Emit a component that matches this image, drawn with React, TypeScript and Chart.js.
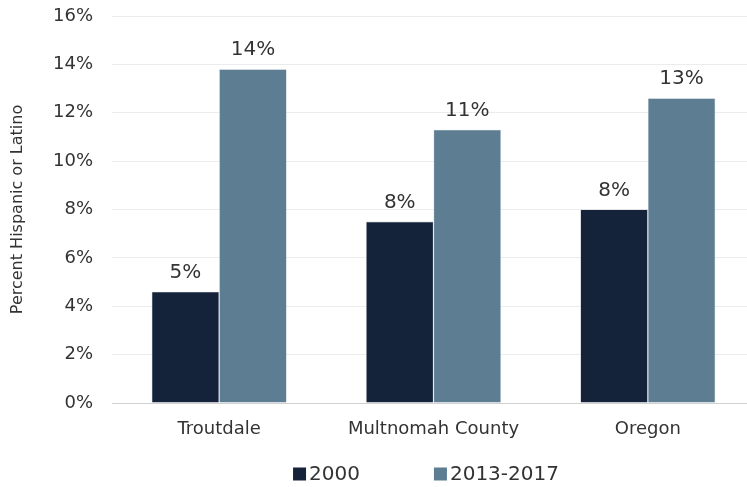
import React, { useEffect, useRef } from "react";
import { Chart, registerables } from "chart.js";

Chart.register(...registerables);

const categories = ["Troutdale", "Multnomah County", "Oregon"];
const seriesNames = ["2000", "2013-2017"];
const values2000 = [4.6, 7.5, 8.0];
const values2013 = [13.8, 11.3, 12.6];
const yTicks = [0, 2, 4, 6, 8, 10, 12, 14, 16];
const colors = ["#14233a", "#5d7e92"];

const FONT = "'DejaVu Sans', sans-serif";
const TEXT = "#333333";

const dataLabelPlugin = {
  id: "dataLabels",
  afterDatasetsDraw(chart: any) {
    const ctx = chart.ctx;
    ctx.save();
    ctx.font = `20px ${FONT}`;
    ctx.fillStyle = TEXT;
    ctx.textAlign = "center";
    ctx.textBaseline = "alphabetic";
    chart.data.datasets.forEach((ds: any, i: number) => {
      const meta = chart.getDatasetMeta(i);
      meta.data.forEach((el: any, j: number) => {
        ctx.fillText(Math.round(ds.data[j]) + "%", el.x, el.y - 14);
      });
    });
    ctx.restore();
  },
};

const legendPlugin = {
  id: "customLegend",
  afterDraw(chart: any) {
    const ctx = chart.ctx;
    ctx.save();
    ctx.font = `20px ${FONT}`;
    ctx.textBaseline = "middle";
    ctx.textAlign = "left";
    const box = 13;
    const gapText = 3;
    const gapItem = 74;
    const widths = chart.data.datasets.map((ds: any) => box + gapText + ctx.measureText(ds.label).width);
    const total = widths.reduce((a: number, b: number) => a + b, 0) + gapItem * (widths.length - 1);
    let x = 426 - total / 2;
    const y = 474;
    chart.data.datasets.forEach((ds: any, i: number) => {
      ctx.fillStyle = ds.backgroundColor;
      ctx.fillRect(x, y - box / 2, box, box);
      ctx.fillStyle = TEXT;
      ctx.fillText(ds.label, x + box + gapText, y + 1);
      x += widths[i] + gapItem;
    });
    ctx.restore();
  },
};

export default function App() {
  const ref = useRef<HTMLCanvasElement>(null);
  useEffect(() => {
    if (!ref.current) return;
    const chart = new Chart(ref.current, {
      type: "bar",
      data: {
        labels: categories,
        datasets: [
          { label: seriesNames[0], data: values2000, backgroundColor: colors[0], borderColor: "#c5ccd3", borderWidth: 0.6 },
          { label: seriesNames[1], data: values2013, backgroundColor: colors[1], borderColor: "#c5ccd3", borderWidth: 0.6 },
        ],
      },
      options: {
        responsive: false,
        animation: false,
        layout: { padding: { top: 16, right: 0, bottom: 45, left: 0 } },
        datasets: { bar: { categoryPercentage: 0.63, barPercentage: 1.0 } },
        plugins: {
          legend: { display: false },
          tooltip: { enabled: false },
        },
        scales: {
          x: {
            grid: { display: false, drawTicks: false },
            border: { display: false },
            ticks: { padding: 16, color: TEXT, font: { family: FONT, size: 18 } },
            afterFit: (s: any) => { s.height = 39; },
          },
          y: {
            min: 0,
            max: 16,
            afterBuildTicks: (s: any) => { s.ticks = yTicks.map((v) => ({ value: v })); },
            grid: {
              drawTicks: false,
              color: (c: any) => (c.tick && c.tick.value === 0 ? "#d0d0d0" : "#ececec"),
              lineWidth: 1,
            },
            border: { display: false },
            ticks: {
              padding: 19,
              color: TEXT,
              font: { family: FONT, size: 18 },
              callback: (v: any) => v + "%",
            },
            title: {
              display: true,
              text: "Percent Hispanic or Latino",
              color: TEXT,
              font: { family: FONT, size: 16 },
              padding: { top: 8, bottom: 0 },
            },
            afterFit: (s: any) => {
              s.width = 112;
              s.paddingTop = 0;
              s.paddingBottom = 0;
            },
          },
        },
      },
      plugins: [dataLabelPlugin, legendPlugin],
    });
    return () => chart.destroy();
  }, []);
  return (
    <div style={{ position: "absolute", left: 0, top: 0, width: 747, height: 487, background: "#fff", overflow: "hidden" }}>
      <canvas ref={ref} width={755} height={487} style={{ display: "block" }} />
    </div>
  );
}
